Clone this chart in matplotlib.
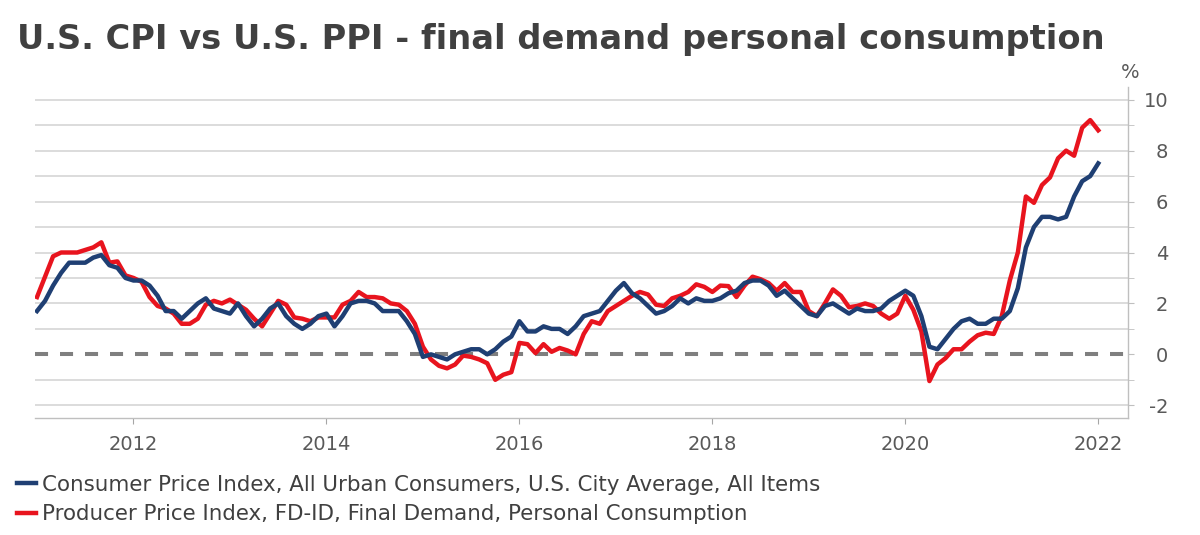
import numpy as np
import matplotlib
matplotlib.use('Agg')
import matplotlib.pyplot as plt
from matplotlib.ticker import MultipleLocator

plt.rcParams['axes.unicode_minus'] = False

# monthly YoY % change, Jan 2011 .. Jan 2022
start_year = 2011
cpi = [1.7, 2.1, 2.7, 3.2, 3.6, 3.6, 3.6, 3.8, 3.9, 3.5, 3.4, 3.0,
       2.9, 2.9, 2.7, 2.3, 1.7, 1.7, 1.4, 1.7, 2.0, 2.2, 1.8, 1.7,
       1.6, 2.0, 1.5, 1.1, 1.4, 1.8, 2.0, 1.5, 1.2, 1.0, 1.2, 1.5,
       1.6, 1.1, 1.5, 2.0, 2.1, 2.1, 2.0, 1.7, 1.7, 1.7, 1.3, 0.8,
       -0.1, 0.0, -0.1, -0.2, 0.0, 0.1, 0.2, 0.2, 0.0, 0.2, 0.5, 0.7,
       1.3, 0.9, 0.9, 1.1, 1.0, 1.0, 0.8, 1.1, 1.5, 1.6, 1.7, 2.1,
       2.5, 2.8, 2.4, 2.2, 1.9, 1.6, 1.7, 1.9, 2.2, 2.0, 2.2, 2.1,
       2.1, 2.2, 2.4, 2.5, 2.8, 2.9, 2.9, 2.7, 2.3, 2.5, 2.2, 1.9,
       1.6, 1.5, 1.9, 2.0, 1.8, 1.6, 1.8, 1.7, 1.7, 1.8, 2.1, 2.3,
       2.5, 2.3, 1.5, 0.3, 0.2, 0.6, 1.0, 1.3, 1.4, 1.2, 1.2, 1.4,
       1.4, 1.7, 2.6, 4.2, 5.0, 5.4, 5.4, 5.3, 5.4, 6.2, 6.8, 7.0,
       7.5]
ppi = [2.25, 3.05, 3.85, 4.0, 4.0, 4.0, 4.1, 4.2, 4.4, 3.6, 3.65, 3.1,
       3.0, 2.85, 2.25, 1.9, 1.8, 1.6, 1.2, 1.2, 1.4, 1.95, 2.1, 2.0,
       2.15, 1.95, 1.75, 1.4, 1.1, 1.6, 2.1, 1.95, 1.45, 1.4, 1.3, 1.45,
       1.45, 1.45, 1.95, 2.1, 2.45, 2.25, 2.25, 2.2, 2.0, 1.95, 1.7, 1.2,
       0.3, -0.2, -0.45, -0.55, -0.4, -0.05, -0.1, -0.2, -0.35, -1.0, -0.8, -0.7,
       0.45, 0.4, 0.05, 0.4, 0.1, 0.25, 0.15, 0.0, 0.8, 1.3, 1.2, 1.7,
       1.9, 2.1, 2.3, 2.45, 2.35, 1.95, 1.9, 2.2, 2.3, 2.45, 2.75, 2.65,
       2.45, 2.7, 2.68, 2.25, 2.7, 3.05, 2.95, 2.8, 2.5, 2.8, 2.45, 2.45,
       1.7, 1.5, 2.0, 2.55, 2.3, 1.85, 1.9, 2.0, 1.9, 1.6, 1.4, 1.6,
       2.3, 1.75, 0.9, -1.05, -0.4, -0.15, 0.2, 0.2, 0.5, 0.75, 0.85, 0.8,
       1.5, 2.9, 4.0, 6.2, 5.95, 6.65, 6.95, 7.7, 8.0, 7.8, 8.9, 9.2,
       8.8]
year_ticks = [2012, 2014, 2016, 2018, 2020, 2022]
y_ticks = [-2, 0, 2, 4, 6, 8, 10]
labels = ['Consumer Price Index, All Urban Consumers, U.S. City Average, All Items',
          'Producer Price Index, FD-ID, Final Demand, Personal Consumption']
title = 'U.S. CPI vs U.S. PPI - final demand personal consumption'

x = start_year + np.arange(len(cpi)) / 12.0

txt = '#404040'
grey = '#595959'
W, H = 1200, 535
fig = plt.figure(figsize=(W / 100, H / 100), dpi=100)
ax = fig.add_axes([35 / W, 1 - 418 / H, (1128 - 35) / W, (418 - 87) / H])

ax.set_ylim(-2.5, 10.5)
ax.set_xlim(start_year - 0.25 / 12, start_year + 135.7 / 12)

# horizontal grid at every integer
for v in range(-2, 11):
    if v != 0:
        ax.axhline(v, color='#d9d9d9', lw=1.3, zorder=1)
zl, = ax.plot(ax.get_xlim(), [0, 0], color='#7f7f7f', lw=2.9, zorder=2)
zl.set_dashes((9.4 / 2.9, 8.6 / 2.9))

ax.plot(x, cpi, color='#1f3f73', lw=3.2, zorder=4, label=labels[0])
ax.plot(x, ppi, color='#e8141e', lw=3.2, zorder=3, label=labels[1])

for s in ['top', 'left']:
    ax.spines[s].set_visible(False)
for s in ['right', 'bottom']:
    ax.spines[s].set_color('#bfbfbf')
    ax.spines[s].set_linewidth(1.0)

ax.set_xticks(year_ticks)
ax.set_xticklabels([str(y) for y in year_ticks])
ax.tick_params(axis='x', length=4.5, color='#a6a6a6', labelsize=14, labelcolor=grey, pad=8)

ax.yaxis.tick_right()
ax.set_yticks(y_ticks)
ax.yaxis.set_minor_locator(MultipleLocator(1))
ax.tick_params(axis='y', which='both', length=4.5, color='#bfbfbf')
ax.tick_params(axis='y', which='major', labelsize=14, labelcolor=grey, pad=24.5)
plt.setp(ax.get_yticklabels(), ha='right')

fig.text(17 / W, 1 - 49 / H, title, fontsize=24.2, fontweight='bold', color=txt, va='baseline')
fig.text(1130 / W, 1 - 72 / H, '%', fontsize=14, color=grey, ha='center', va='center')

leg = fig.legend(loc='upper left', bbox_to_anchor=(8 / W, 1 - 466 / H), frameon=False,
                 fontsize=15.4, handlelength=0.93, handletextpad=0.27, labelspacing=0.45,
                 borderaxespad=0)
for t in leg.get_texts():
    t.set_color(txt)

fig.savefig('out.png', dpi=100)
